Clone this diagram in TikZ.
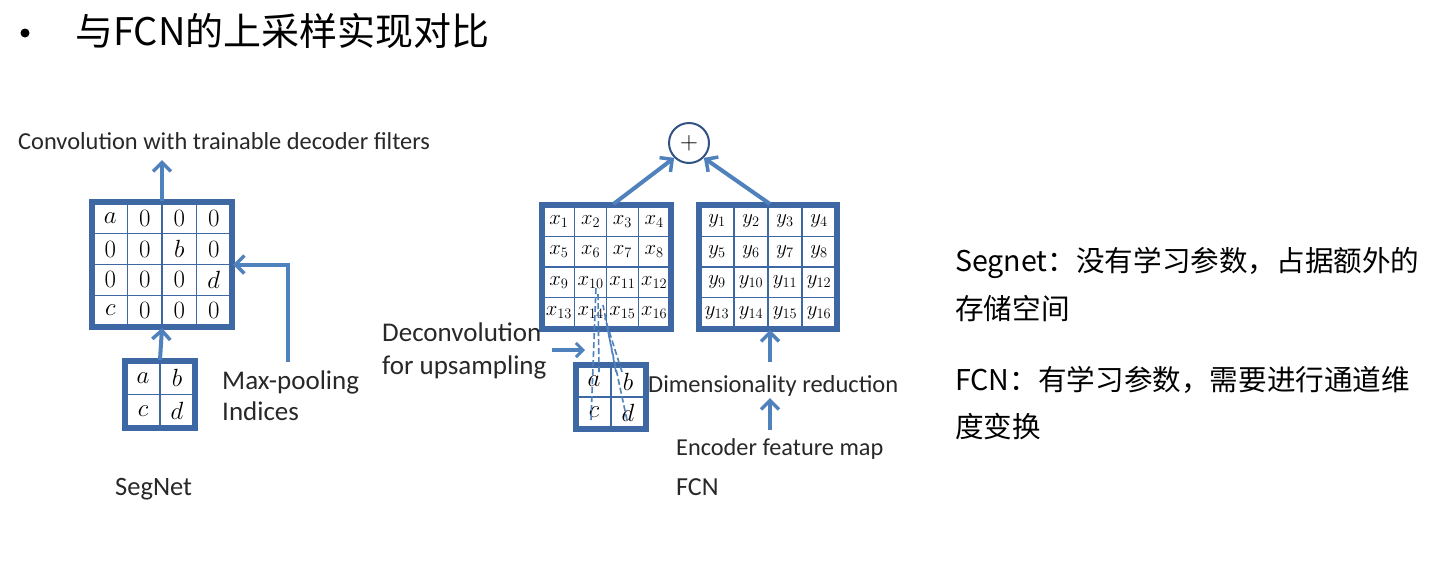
\documentclass[tikz,border=0pt]{standalone}
\usepackage{fontspec}
\setmainfont{Carlito}
\newfontfamily\cjk{Noto Sans CJK SC}
\usetikzlibrary{arrows.meta}
\definecolor{arr}{RGB}{79,129,189}
\definecolor{grd}{RGB}{62,104,164}
\definecolor{txt}{RGB}{40,40,40}
\tikzset{
  arrow/.style={draw=arr, line width=4pt, -{Straight Barb[length=9pt,width=18pt,line width=3.5pt]}},
  gridbox/.style={draw=grd, line width=4pt, inner sep=0pt},
  inner/.style={draw=grd, line width=1.3pt},
  lbl/.style={anchor=base west, inner sep=0pt, text=txt},
  dashln/.style={draw=arr, line width=1.6pt, dash pattern=on 6pt off 3pt},
}
\newcommand\mkgrid[7]{% name, x0, y0, w, h, n, list
  \node[gridbox, fill=white, minimum width=#4pt, minimum height=#5pt] (#1) at ({#2+#4/2},{#3+#5/2}) {};
  \foreach \i in {1,...,\numexpr#6-1\relax}{
    \draw[inner] ({#2+#4*\i/#6},#3) -- ({#2+#4*\i/#6},{#3+#5});
    \draw[inner] (#2,{#3+#5*\i/#6}) -- ({#2+#4},{#3+#5*\i/#6});
  }
  \draw[gridbox] (#1.south west) rectangle (#1.north east);
  \foreach \t [count=\k from 0] in {#7}{
    \pgfmathtruncatemacro\cc{mod(\k,#6)}
    \pgfmathtruncatemacro\rr{int(\k/#6)}
    \node[inner sep=0pt] at ({#2+#4*(\cc+0.5)/#6},{#3+#5*(\rr+0.5)/#6}) {$\t$};
  }
}
\begin{document}
\begin{tikzpicture}[x=1pt,y=-1pt]
\useasboundingbox[fill=white] (0,0) rectangle (1433,574);

% title
\node[circle, fill=black, inner sep=0pt, minimum size=9pt] (bul) at (25,33) {};
\node[anchor=base west, inner sep=0pt, font=\fontsize{38}{44}\selectfont] (title) at (75,45) {\cjk 与FCN的上采样实现对比};

% SegNet
\begin{scope}[font=\fontsize{29}{32}\selectfont]
\mkgrid{G}{93}{203}{138}{123}{4}{a,0,0,0,0,0,b,0,0,0,0,d,c,0,0,0}
\mkgrid{S}{126}{362}{68}{65}{2}{a,b,c,d}
\end{scope}
\node[lbl, font=\fontsize{24.4}{28}\selectfont] (conv) at (18,149) {Convolution with trainable decoder filters};
\coordinate (convend) at (G.north |- 0,160);
\draw[arrow] (G.north) -- (convend);
\draw[arrow] (S.north) -- (G.south);
\node[lbl, font=\fontsize{27}{30}\selectfont] (mp1) at (222,389) {Max-pooling};
\node[lbl, font=\fontsize{27}{30}\selectfont] (mp2) at (222,420) {Indices};
\coordinate (mpstart) at (288,362);
\draw[arrow] (mpstart) |- (G.east);
\node[lbl, font=\fontsize{26.5}{30}\selectfont] (segnet) at (115,495) {SegNet};

% FCN
\begin{scope}[font=\fontsize{22}{26}\selectfont]
\mkgrid{X}{543}{206}{127}{122}{4}{x_1,x_2,x_3,x_4,x_5,x_6,x_7,x_8,x_9,x_{10},x_{11},x_{12},x_{13},x_{14},x_{15},x_{16}}
\mkgrid{Y}{700}{206}{136}{122}{4}{y_1,y_2,y_3,y_4,y_5,y_6,y_7,y_8,y_9,y_{10},y_{11},y_{12},y_{13},y_{14},y_{15},y_{16}}
\end{scope}
\begin{scope}[font=\fontsize{29}{32}\selectfont]
\mkgrid{T}{577}{366}{68}{62}{2}{a,b,c,d}
\end{scope}
\node[circle, draw=grd!80!black, line width=2pt, minimum size=40pt, inner sep=0pt, fill=white, font=\fontsize{26}{28}\selectfont] (P) at (689,143) {$+$};
\draw[arrow] ([xshift=7pt]X.north) -- (P.225);
\draw[arrow] ([xshift=2pt]Y.north) -- (P.-45);

% dashed deconvolution lines
\coordinate (t1) at (591,420); \coordinate (u1) at (596,287);
\coordinate (t2) at (599,372); \coordinate (u2) at (598,293);
\coordinate (t3) at (616,372); \coordinate (u3) at (603,305);
\coordinate (t4) at (622,372); \coordinate (u4) at (605,318);
\coordinate (t5) at (627,420); \coordinate (u5) at (607,327);
\foreach \i in {1,...,5}{\draw[dashln] (t\i) -- (u\i);}

\node[lbl, font=\fontsize{27}{30}\selectfont] (dc1) at (382,341) {Deconvolution};
\node[lbl, font=\fontsize{27}{30}\selectfont] (dc2) at (382,374) {for upsampling};
\coordinate (dcs) at (552,350); \coordinate (dce) at (585,350);
\draw[arrow, -{Straight Barb[length=7pt,width=14pt,line width=3pt]}] (dcs) -- (dce);

\node[lbl, font=\fontsize{24.5}{28}\selectfont] (dim) at (648,392) {Dimensionality reduction};
\node[lbl, font=\fontsize{24.3}{28}\selectfont] (enc) at (676,455) {Encoder feature map};
\node[lbl, font=\fontsize{26}{30}\selectfont] (fcn) at (676,495) {FCN};
\coordinate (d1) at (770,362);
\draw[arrow] (d1) -- ([xshift=2pt]Y.south);
\coordinate (e1) at (770,430); \coordinate (e2) at (770,398);
\draw[arrow] (e1) -- (e2);

% right text
\begin{scope}[font=\fontsize{28.6}{34}\selectfont\cjk]
\node[anchor=base west, inner sep=0pt] (r1) at (955,271) {Segnet：没有学习参数，占据额外的};
\node[anchor=base west, inner sep=0pt] (r2) at (955,319) {存储空间};
\node[anchor=base west, inner sep=0pt] (r3) at (955,390) {FCN：有学习参数，需要进行通道维};
\node[anchor=base west, inner sep=0pt] (r4) at (955,437) {度变换};
\end{scope}
\end{tikzpicture}
\end{document}
